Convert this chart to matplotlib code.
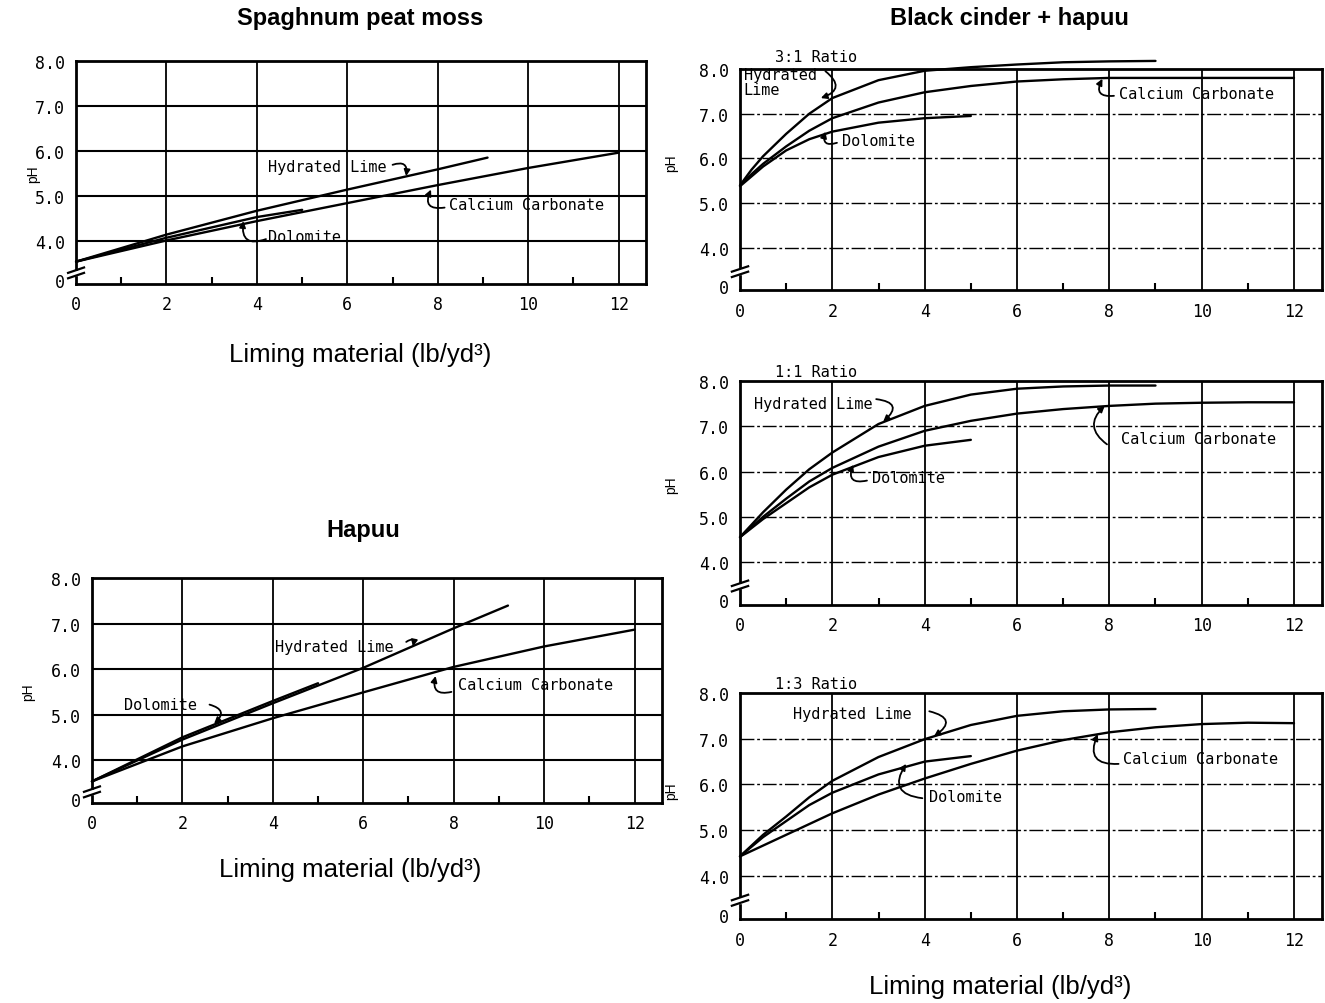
import matplotlib.pyplot as plt
from matplotlib.transforms import blended_transform_factory

# pH, x = liming material (lb/yd3)
spag_lime_x = [0, 2, 4, 6, 8, 9.1]
spag_lime_ph = [3.55, 4.15, 4.68, 5.15, 5.6, 5.86]
spag_carb_x = [0, 2, 4, 6, 8, 10, 12]
spag_carb_ph = [3.55, 4.02, 4.45, 4.85, 5.25, 5.63, 5.97]
spag_dol_x = [0, 2, 4, 5]
spag_dol_ph = [3.55, 4.08, 4.54, 4.7]

hapuu_lime_x = [0, 2, 4, 6, 8, 9.2]
hapuu_lime_ph = [3.53, 4.45, 5.25, 6.03, 6.9, 7.4]
hapuu_dol_x = [0, 2, 4, 5]
hapuu_dol_ph = [3.53, 4.5, 5.3, 5.69]
hapuu_carb_x = [0, 2, 4, 6, 8, 10, 12]
hapuu_carb_ph = [3.53, 4.3, 4.92, 5.49, 6.05, 6.5, 6.87]

r31_lime_x = [0, 0.25, 0.5, 1, 1.5, 2, 3, 4, 5, 6, 7, 8, 9]
r31_lime_ph = [5.4, 5.75, 6.05, 6.55, 7.0, 7.35, 7.75, 7.96, 8.04, 8.1, 8.15, 8.17, 8.18]
r31_carb_x = [0, 0.25, 0.5, 1, 1.5, 2, 3, 4, 5, 6, 7, 8, 10, 12]
r31_carb_ph = [5.4, 5.65, 5.88, 6.27, 6.62, 6.9, 7.25, 7.48, 7.62, 7.72, 7.77, 7.8, 7.8, 7.8]
r31_dol_x = [0, 0.25, 0.5, 1, 1.5, 2, 3, 4, 5]
r31_dol_ph = [5.38, 5.6, 5.82, 6.18, 6.43, 6.6, 6.8, 6.9, 6.95]

r11_lime_x = [0, 0.5, 1, 1.5, 2, 3, 4, 5, 6, 7, 8, 9]
r11_lime_ph = [4.55, 5.1, 5.6, 6.05, 6.42, 7.05, 7.45, 7.7, 7.83, 7.88, 7.9, 7.9]
r11_carb_x = [0, 0.5, 1, 1.5, 2, 3, 4, 5, 6, 7, 8, 9, 10, 11, 12]
r11_carb_ph = [4.55, 5.0, 5.4, 5.78, 6.08, 6.55, 6.9, 7.12, 7.28, 7.38, 7.45, 7.5, 7.52, 7.53, 7.53]
r11_dol_x = [0, 0.5, 1, 1.5, 2, 3, 4, 5]
r11_dol_ph = [4.55, 4.95, 5.3, 5.65, 5.93, 6.32, 6.57, 6.7]

r13_lime_x = [0, 0.5, 1, 1.5, 2, 3, 4, 5, 6, 7, 8, 9]
r13_lime_ph = [4.43, 4.9, 5.3, 5.72, 6.08, 6.6, 6.99, 7.3, 7.5, 7.6, 7.64, 7.65]
r13_dol_x = [0, 0.5, 1, 1.5, 2, 3, 4, 5]
r13_dol_ph = [4.43, 4.85, 5.2, 5.55, 5.82, 6.22, 6.5, 6.62]
r13_carb_x = [0, 1, 2, 3, 4, 5, 6, 7, 8, 9, 10, 11, 12]
r13_carb_ph = [4.43, 4.9, 5.37, 5.78, 6.13, 6.45, 6.74, 6.97, 7.14, 7.25, 7.32, 7.35, 7.34]

ytick_vals = [3.15, 4, 5, 6, 7, 8]
ytick_labels = ['0', '4.0', '5.0', '6.0', '7.0', '8.0']
xtick_vals = [0, 2, 4, 6, 8, 10, 12]

MONO = 'DejaVu Sans Mono'
SANS = ['Liberation Sans', 'DejaVu Sans']

fig = plt.figure(figsize=(13.25, 10.04), dpi=100)


def setup(ax, dashed_h, break_y, ylab_pos):
    ax.set_xlim(0, 12.6)
    ax.set_ylim(3.05, 8.0)
    for s in ax.spines.values():
        s.set_linewidth(2)
    for v in [2, 4, 6, 8, 10, 12]:
        ax.axvline(v, color='k', lw=1.3, zorder=1)
    for h in [4, 5, 6, 7]:
        if dashed_h:
            ax.axhline(h, color='k', lw=1.0, ls=(0, (10, 2, 2, 2)), zorder=1)
        else:
            ax.axhline(h, color='k', lw=1.5, zorder=1)
    ax.set_yticks(ytick_vals)
    ax.set_yticklabels(ytick_labels, fontfamily=MONO, fontsize=12)
    ax.set_xticks(xtick_vals)
    ax.set_xticklabels([str(v) for v in xtick_vals], fontfamily=MONO, fontsize=12)
    ax.set_xticks([1, 3, 5, 7, 9, 11], minor=True)
    ax.tick_params(axis='both', which='major', length=0, pad=8)
    ax.tick_params(axis='x', which='minor', direction='in', length=5, width=1.5)
    ax.set_ylabel('pH', fontfamily=SANS, fontsize=10)
    ax.yaxis.set_label_coords(*ylab_pos)
    # axis break on the y spine
    tr = blended_transform_factory(ax.transAxes, ax.transData)
    ax.fill_between([-0.01, 0.01], break_y - 0.05, break_y + 0.05, color='white',
                    transform=tr, clip_on=False, zorder=5)
    for off in (-0.06, 0.06):
        ax.plot([-0.014, 0.014], [break_y + off - 0.06, break_y + off + 0.06],
                color='k', lw=1.6, transform=tr, clip_on=False, zorder=6)


def curve(ax, x, y):
    ax.plot(x, y, color='k', lw=1.7, clip_on=False, zorder=3, solid_capstyle='round')


def label(ax, text, tx, ty, start, tip, rad):
    ax.text(tx, ty, text, fontfamily=MONO, fontsize=11, ha='left', va='center',
            zorder=4, linespacing=1.0)
    ax.annotate('', xy=tip, xytext=start,
                arrowprops=dict(arrowstyle='-|>', color='k', lw=1.3, mutation_scale=9,
                                connectionstyle='arc3,rad=%s' % rad, shrinkA=0, shrinkB=0),
                zorder=4)


# Spaghnum peat moss
ax1 = fig.add_axes([0.0574, 0.716, 0.430, 0.222])
setup(ax1, False, 3.3, (-0.063, 0.5))
curve(ax1, spag_lime_x, spag_lime_ph)
curve(ax1, spag_carb_x, spag_carb_ph)
curve(ax1, spag_dol_x, spag_dol_ph)
label(ax1, 'Hydrated Lime', 4.25, 5.67, (7.0, 5.7), (7.3, 5.45), -0.8)
label(ax1, 'Calcium Carbonate', 8.25, 4.82, (8.15, 4.75), (7.85, 5.15), -0.9)
label(ax1, 'Dolomite', 4.25, 4.1, (4.2, 4.05), (3.7, 4.45), -0.8)

# Hapuu
ax2 = fig.add_axes([0.0694, 0.199, 0.430, 0.224])
setup(ax2, False, 3.3, (-0.1, 0.5))
curve(ax2, hapuu_lime_x, hapuu_lime_ph)
curve(ax2, hapuu_dol_x, hapuu_dol_ph)
curve(ax2, hapuu_carb_x, hapuu_carb_ph)
label(ax2, 'Hydrated Lime', 4.05, 6.51, (6.95, 6.6), (7.1, 6.5), -1.2)
label(ax2, 'Calcium Carbonate', 8.1, 5.67, (7.95, 5.5), (7.6, 5.85), -0.8)
label(ax2, 'Dolomite', 0.7, 5.22, (2.6, 5.22), (2.7, 4.8), -0.9)

# Black cinder + hapuu, three ratios
ax3 = fig.add_axes([0.5585, 0.7097, 0.439, 0.2206])
setup(ax3, True, 3.47, (-0.107, 0.58))
curve(ax3, r31_lime_x, r31_lime_ph)
curve(ax3, r31_carb_x, r31_carb_ph)
curve(ax3, r31_dol_x, r31_dol_ph)
ax3.text(0.75, 8.12, '3:1 Ratio', fontfamily=MONO, fontsize=11, va='bottom')
label(ax3, 'Hydrated\nLime', 0.08, 7.72, (1.85, 7.95), (1.75, 7.35), -0.9)
label(ax3, 'Calcium Carbonate', 8.2, 7.46, (8.1, 7.4), (7.85, 7.78), -0.9)
label(ax3, 'Dolomite', 2.2, 6.41, (2.1, 6.35), (1.85, 6.6), -0.9)

ax4 = fig.add_axes([0.5585, 0.3964, 0.439, 0.2231])
setup(ax4, True, 3.47, (-0.107, 0.54))
curve(ax4, r11_lime_x, r11_lime_ph)
curve(ax4, r11_carb_x, r11_carb_ph)
curve(ax4, r11_dol_x, r11_dol_ph)
ax4.text(0.75, 8.04, '1:1 Ratio', fontfamily=MONO, fontsize=11, va='bottom')
label(ax4, 'Hydrated Lime', 0.3, 7.51, (2.95, 7.6), (3.1, 7.1), -1.1)
label(ax4, 'Calcium Carbonate', 8.25, 6.72, (7.95, 6.6), (7.9, 7.45), -0.6)
label(ax4, 'Dolomite', 2.85, 5.86, (2.75, 5.8), (2.45, 6.15), -0.9)

ax5 = fig.add_axes([0.5585, 0.0832, 0.439, 0.2256])
setup(ax5, True, 3.47, (-0.107, 0.57))
curve(ax5, r13_lime_x, r13_lime_ph)
curve(ax5, r13_dol_x, r13_dol_ph)
curve(ax5, r13_carb_x, r13_carb_ph)
ax5.text(0.75, 8.04, '1:3 Ratio', fontfamily=MONO, fontsize=11, va='bottom')
label(ax5, 'Hydrated Lime', 1.15, 7.56, (4.1, 7.6), (4.2, 7.05), -1.1)
label(ax5, 'Calcium Carbonate', 8.3, 6.56, (8.2, 6.45), (7.75, 7.1), -0.8)
label(ax5, 'Dolomite', 4.1, 5.73, (3.95, 5.7), (3.6, 6.45), -0.8)

# titles and axis captions
fig.text(0.2717, 0.982, 'Spaghnum peat moss', fontfamily=SANS, fontweight='bold',
         fontsize=17, ha='center', va='center')
fig.text(0.762, 0.982, 'Black cinder + hapuu', fontfamily=SANS, fontweight='bold',
         fontsize=17, ha='center', va='center')
fig.text(0.274, 0.472, 'Hapuu', fontfamily=SANS, fontweight='bold',
         fontsize=17, ha='center', va='center')
for x, y in [(0.2717, 0.6464), (0.264, 0.1335), (0.7547, 0.017)]:
    fig.text(x, y, 'Liming material (lb/yd³)', fontfamily=SANS, fontsize=18.5,
             ha='center', va='center')

fig.savefig('out.png', dpi=100, facecolor='white')
